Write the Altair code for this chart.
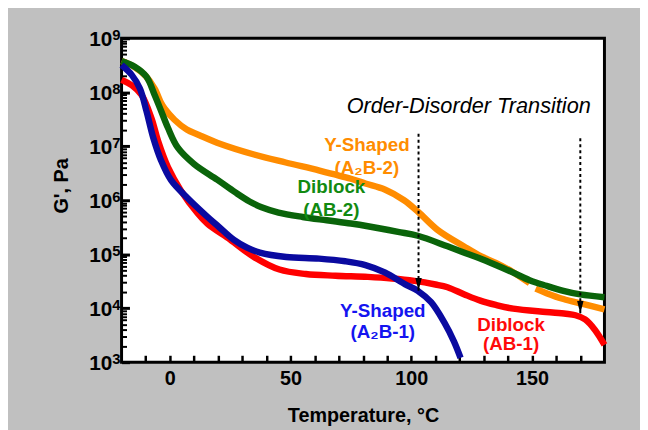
import altair as alt
import pandas as pd

# ---------------- data ----------------
# Y-Shaped (A2B-2), orange: recorded in two segments
a2b2_temp_1 = [-20, -15, -10, -6.3, -3.6, -2.2, 1.9, 7, 12, 21, 34.5, 48, 62, 75, 81, 89, 97, 103, 111, 122, 129, 135, 142, 149]
a2b2_g_1 = [3.8e8, 3.0e8, 2.0e8, 1.17e8, 6.3e7, 5.0e7, 3.1e7, 2.04e7, 1.62e7, 1.1e7, 7.1e6, 5.0e6, 3.55e6, 2.5e6, 2.04e6, 1.58e6, 1.0e6, 6.0e5, 2.8e5, 1.38e5, 9.1e4, 6.9e4, 4.7e4, 2.9e4]
a2b2_temp_2 = [151.5, 156, 163, 171, 180]
a2b2_g_2 = [2.3e4, 1.9e4, 1.48e4, 1.2e4, 9.5e3]

# Diblock (AB-2), dark green
ab2_temp = [-20, -14.4, -9.7, -6.3, -3.6, -0.8, 3.3, 10, 19.6, 27, 33, 38, 45, 55, 65, 75, 82, 94.5, 102.7, 115, 122, 128, 135, 142, 149, 156, 163, 170, 180]
ab2_g = [3.8e8, 2.95e8, 1.95e8, 8.9e7, 4.5e7, 2.2e7, 9.4e6, 4.7e6, 2.4e6, 1.41e6, 9.5e5, 7.4e5, 5.9e5, 4.9e5, 4.25e5, 3.7e5, 3.3e5, 2.6e5, 2.2e5, 1.4e5, 1.07e5, 8.5e4, 6.3e4, 4.6e4, 3.3e4, 2.6e4, 2.1e4, 1.8e4, 1.6e4]

# Y-Shaped (A2B-1), blue
a2b1_temp = [-20, -15.8, -12.4, -9.7, -6.9, -3.6, 0.5, 7.3, 15, 20, 26.4, 32, 37.3, 48.2, 61.8, 72.7, 81, 89, 97.3, 102.7, 108.2, 113.6, 117.7, 120.4]
a2b1_g = [3.2e8, 2.1e8, 1.17e8, 4.5e7, 1.45e7, 5.4e6, 2.35e6, 1.1e6, 5.2e5, 3.3e5, 1.86e5, 1.32e5, 1.07e5, 8.9e4, 8.3e4, 7.4e4, 6.3e4, 4.6e4, 2.8e4, 2.1e4, 1.29e4, 5.5e3, 2.4e3, 1.2e3]

# Diblock (AB-1), red
ab1_temp = [-20, -15.8, -11.7, -7.6, -4.9, -0.8, 4.6, 11.4, 15.5, 25, 34.5, 45.4, 56.3, 68.6, 82, 92, 101.3, 110, 115, 122, 128.6, 135, 142.2, 155.8, 164, 168, 172, 176, 180]
ab1_g = [1.7e8, 1.35e8, 8.9e7, 3.3e7, 1.26e7, 4.1e6, 1.5e6, 5.8e5, 3.7e5, 1.86e5, 9.1e4, 5.2e4, 4.3e4, 4.0e4, 3.8e4, 3.55e4, 3.2e4, 2.75e4, 2.45e4, 1.8e4, 1.38e4, 1.15e4, 9.8e3, 8.5e3, 7.9e3, 7.4e3, 6.2e3, 4.0e3, 2.1e3]

# order-disorder transition arrows
odt_temp = [103, 170]
odt_top = [1.7e7, 1.4e7]
odt_tip = [2.1e4, 7.9e3]

# curve labels
label_text = ["Y-Shaped", "(A\u2082B-2)", "Diblock", "(AB-2)", "Y-Shaped", "(A\u2082B-1)", "Diblock", "(AB-1)"]
label_temp = [81.6, 81.6, 66.9, 66.9, 88.2, 88.2, 141.3, 141.3]
label_g = [1.06e7, 4.0e6, 1.73e6, 6.56e5, 8.95e3, 3.54e3, 4.96e3, 2.14e3]
label_color = ["#FF8C00", "#FF8C00", "#118A11", "#118A11", "#1414F0", "#1414F0", "#FF0A0A", "#FF0A0A"]

title_text = ["Order-Disorder Transition"]
title_temp = [123.8]
title_g = [5.47e7]

x_label_values = [0, 50, 100, 150]
x_tick_values = [-10, 0, 10, 20, 30, 40, 50, 60, 70, 80, 90, 100, 110, 120, 130, 140, 150, 160, 170]
decades = [1e3, 1e4, 1e5, 1e6, 1e7, 1e8, 1e9]
minor_ticks = [k * d for d in decades[:-1] for k in range(2, 10)]

# ---------------- build ----------------
W, H = 489, 328
FONT = "Liberation Sans"

def series_df(temp, g, seg):
    return pd.DataFrame({"T": temp, "G": g, "seg": seg})

df_orange = pd.concat([series_df(a2b2_temp_1, a2b2_g_1, "a"), series_df(a2b2_temp_2, a2b2_g_2, "b")])
df_green = series_df(ab2_temp, ab2_g, "a")
df_blue = series_df(a2b1_temp, a2b1_g, "a")
df_red = series_df(ab1_temp, ab1_g, "a")
df_all = pd.concat([df_orange, df_green, df_blue, df_red])

xs = alt.Scale(domain=[-20, 180], nice=False, zero=False)
ys = alt.Scale(type="log", domain=[1e3, 1e9], nice=False)


def X(axis=None, field="T:Q"):
    return alt.X(field, scale=xs, axis=axis)


def Y(axis=None, field="G:Q"):
    return alt.Y(field, scale=ys, axis=axis)


x_label_axis = alt.Axis(
    orient="bottom", values=x_label_values, ticks=False, domain=False, grid=False,
    labelFontSize=20, labelFontWeight="bold", labelFont=FONT, labelColor="black",
    labelPadding=7, labelFlush=False, labelOverlap=False,
    title="Temperature, \u00b0C", titleFont=FONT, titleFontSize=20, titleFontWeight="bold",
    titleColor="black", titleX=W / 2, titleY=54, titleBaseline="middle", titleAlign="center",
)
y_label_axis = alt.Axis(
    orient="left", values=decades, labelExpr="'10'", ticks=False, domain=False, grid=False,
    labelFontSize=21, labelFontWeight="bold", labelFont=FONT, labelColor="black",
    labelPadding=10, labelOffset=1.5, labelBaseline="middle", labelFlush=False, labelOverlap=False,
    title="G', Pa", titleFont=FONT, titleFontSize=20, titleFontWeight="bold", titleColor="black",
    titleX=-61, titleY=149, titleAngle=270, titleBaseline="middle", titleAlign="center",
)
y_exp_axis = alt.Axis(
    orient="left", values=decades, labelExpr="'' + round(log(datum.value) / LN10)",
    ticks=False, domain=False, grid=False,
    labelFontSize=15, labelFontWeight="bold", labelFont=FONT, labelColor="black",
    labelPadding=1.5, labelOffset=-4, labelBaseline="middle", labelFlush=False, labelOverlap=False,
    title=None,
)
y_major_axis = alt.Axis(
    orient="right", offset=-W, values=decades, labels=False, domain=False, grid=False,
    ticks=True, tickSize=8, tickWidth=3, tickColor="black", title=None,
)
y_minor_axis = alt.Axis(
    orient="right", offset=-W, values=minor_ticks, labels=False, domain=False, grid=False,
    ticks=True, tickSize=5, tickWidth=2, tickColor="black", title=None,
)
x_tick_axis = alt.Axis(
    orient="top", offset=-H, values=x_tick_values, labels=False, domain=False, grid=False,
    ticks=True, tickSize=7, tickWidth=2.5, tickColor="black", title=None,
)

LW = 6.5
INTERP = "catmull-rom"

orange = alt.Chart(df_orange).mark_line(color="#FF8C00", strokeWidth=LW, interpolate=INTERP).encode(
    x=X(x_label_axis), y=Y(y_label_axis), detail="seg:N")
green = alt.Chart(df_green).mark_line(color="#0A640A", strokeWidth=LW, interpolate=INTERP).encode(
    x=X(), y=Y())
red = alt.Chart(df_red).mark_line(color="#FF0000", strokeWidth=LW, interpolate=INTERP).encode(
    x=X(), y=Y())
blue = alt.Chart(df_blue).mark_line(color="#0A0AA0", strokeWidth=LW, interpolate=INTERP).encode(
    x=X(), y=Y())

ghost = alt.Chart(df_all).mark_point(opacity=0)
exp_layer = ghost.encode(x=X(), y=Y(y_exp_axis))
ymaj_layer = ghost.encode(x=X(), y=Y(y_major_axis))
ymin_layer = ghost.encode(x=X(), y=Y(y_minor_axis))
xtick_layer = ghost.encode(x=X(x_tick_axis), y=Y())

df_odt = pd.DataFrame({"T": odt_temp, "top": odt_top, "tip": odt_tip})
odt_lines = alt.Chart(df_odt).mark_rule(color="black", strokeWidth=2, strokeDash=[3, 3]).encode(
    x=X(), y=Y(field="top:Q"), y2="tip:Q")
odt_heads = alt.Chart(df_odt).mark_point(
    shape="M-0.5,-2L0.5,-2L0,0Z", size=169, filled=True, color="black", opacity=1, strokeWidth=0
).encode(x=X(), y=Y(field="tip:Q"))

df_lab = pd.DataFrame({"T": label_temp, "G": label_g, "text": label_text, "c": label_color})
labels = alt.Chart(df_lab).mark_text(
    font=FONT, fontSize=19, fontWeight="bold", align="center", baseline="middle"
).encode(x=X(), y=Y(), text="text:N", color=alt.Color("c:N", scale=None))

df_title = pd.DataFrame({"T": title_temp, "G": title_g, "text": title_text})
odt_title = alt.Chart(df_title).mark_text(
    font=FONT, fontSize=22, fontStyle="italic", color="black", align="center", baseline="middle"
).encode(x=X(), y=Y(), text="text:N")

chart = alt.layer(
    orange, green, red, blue,
    exp_layer, ymaj_layer, ymin_layer, xtick_layer,
    odt_lines, odt_heads, labels, odt_title,
).resolve_axis(x="independent", y="independent").properties(
    width=W, height=H,
    autosize=alt.AutoSizeParams(type="none"),
    padding={"left": 115, "top": 28, "right": 36, "bottom": 66},
    background="#C0C0C0",
).configure_view(
    fill="white", stroke="black", strokeWidth=3,
)

chart.save("out.html", embed_options={"renderer": "svg", "actions": False})
